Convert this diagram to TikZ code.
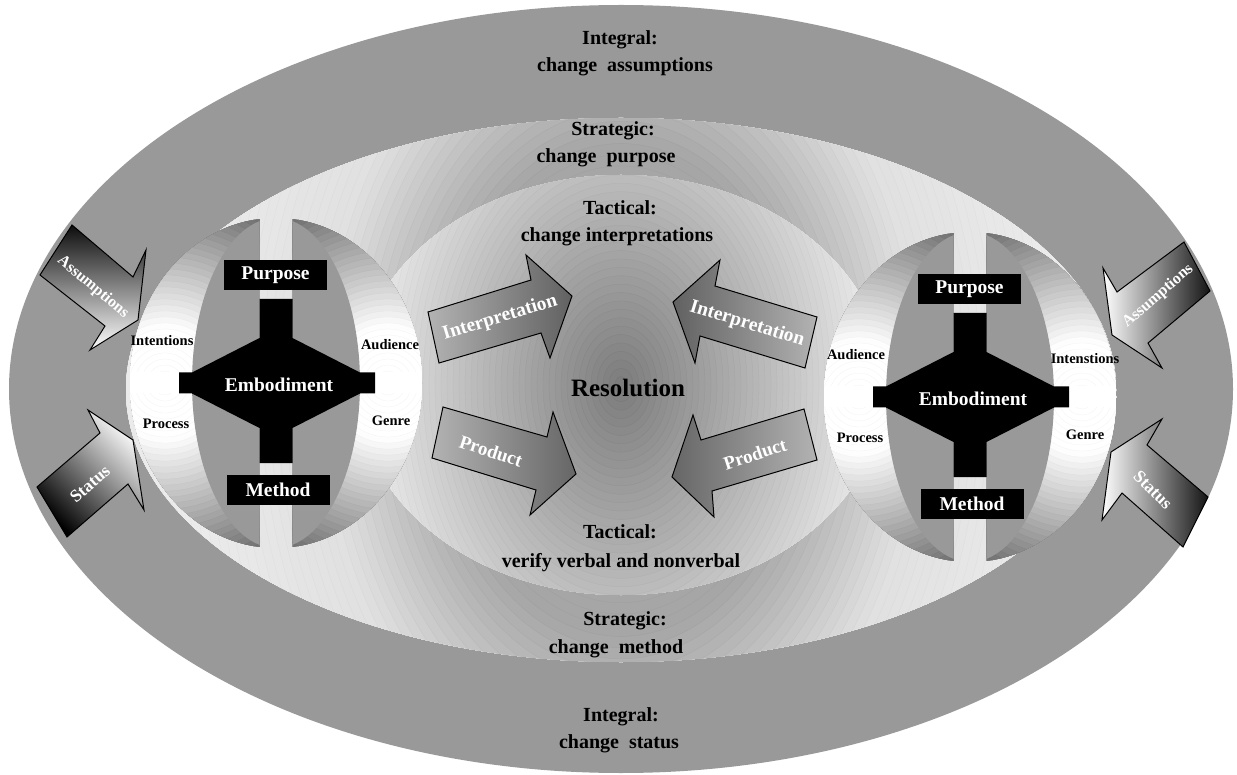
\documentclass[tikz,border=0pt]{standalone}
\usepackage{fontspec}
\setmainfont{Liberation Serif}

\tikzset{
  ring/.style={font=\fontsize{20}{24}\selectfont\bfseries, inner sep=0pt, anchor=base},
  quad/.style={font=\fontsize{14.5}{16}\selectfont\bfseries, inner sep=0pt},
  tag/.style={font=\fontsize{19.5}{22}\selectfont\bfseries, text=white, inner sep=0pt},
  arrowtext/.style={text=white, inner sep=0pt},
  blackbox/.style={fill=black, text=white, minimum width=103pt, minimum height=30pt,
    inner sep=0pt, font=\fontsize{19.5}{22}\selectfont\bfseries},
  blockarrow/.style={draw=black, line width=1pt, line join=miter},
  % a split sphere with its embodiment cross
  sphere/.pic={
    \begin{scope}
      \clip (-150,-170) rectangle (-16.5,170);
      \clip (0,0) ellipse [x radius=146, y radius=165];
      \foreach \rr in {204,198,...,6}{
        \pgfmathsetmacro\pc{54*min(max((\rr-58)/130,0),1)}
        \pgfmathsetmacro\pd{\pc+5}
        \filldraw[fill=black!\pc, draw=black!\pd, line width=0.25pt] (-111,0) circle [radius=\rr];
      }
    \end{scope}
    \begin{scope}
      \clip (16.5,-170) rectangle (150,170);
      \clip (0,0) ellipse [x radius=146, y radius=165];
      \foreach \rr in {204,198,...,6}{
        \pgfmathsetmacro\pc{54*min(max((\rr-58)/130,0),1)}
        \pgfmathsetmacro\pd{\pc+5}
        \filldraw[fill=black!\pc, draw=black!\pd, line width=0.25pt] (112,0) circle [radius=\rr];
      }
    \end{scope}
    \begin{scope}
      \clip (-150,-170) rectangle (-16.5,170) (16.5,-170) rectangle (150,170);
      \clip (0,0) ellipse [x radius=146, y radius=165];
      \fill[black!40] (0,0) ellipse [x radius=84, y radius=165];
      \fill[white] (-150,-10.5) rectangle (150,10.5);
    \end{scope}
    \fill[black] (-97,10.5) -- (-84,10.5) -- (-16.5,45) -- (-16.5,84) -- (16.5,84)
      -- (16.5,45) -- (84,10.5) -- (99,10.5) -- (99,-10.5) -- (84,-10.5) -- (16.5,-45)
      -- (16.5,-80) -- (-16.5,-80) -- (-16.5,-45) -- (-84,-10.5) -- (-97,-10.5) -- cycle;
    \node[blackbox] (-purpose) at (-0.5,108) {Purpose};
    \node[blackbox] (-method) at (2,-107) {Method};
    \node[tag] (-embodiment) at (3,-2) {Embodiment};
  }
}

\begin{document}
\begin{tikzpicture}[x=1pt,y=1pt]
\useasboundingbox (0,0) rectangle (1237,-775);
\fill[white] (0,0) rectangle (1237,-775);

% integral band
\fill[black!40] (621,-389) ellipse [x radius=612, y radius=384];

% strategic band
\begin{scope}
  \clip (621,-390) ellipse [x radius=495, y radius=272];
  \foreach \sa in {560,552,...,150}{
    \pgfmathsetmacro\pc{100*(1-(0.65+0.23*min(max((\sa-180)/120,0),1)+0.04*min(max((\sa-300)/130,0),1)))}
    \pgfmathsetmacro\pd{\pc+3}
    \filldraw[fill=black!\pc, draw=black!\pd, line width=0.3pt] (621,-390) ellipse [x radius=\sa, y radius=1.4*\sa];
  }
\end{scope}

% tactical core
\begin{scope}
  \clip (621,-385) ellipse [x radius=265, y radius=210];
  \foreach \sa in {282,276,...,6}{
    \pgfmathsetmacro\pc{100*(1-(0.48+0.45*min(\sa,265)/265))}
    \pgfmathsetmacro\pd{\pc+3}
    \filldraw[fill=black!\pc, draw=black!\pd, line width=0.3pt] (621,-385) ellipse [x radius=\sa, y radius=1.4*\sa];
  }
\end{scope}

% the two spheres
\pic (L) at (276,-383) {sphere};
\pic (R) at (970,-397) {sphere};

% quadrant labels
\node[quad] (lint) at (162,-341) {Intentions};
\node[quad] (lpro) at (166,-424) {Process};
\node[quad] (laud) at (390,-345) {Audience};
\node[quad] (lgen) at (391,-421) {Genre};
\node[quad] (raud) at (856,-355) {Audience};
\node[quad] (rpro) at (860,-438) {Process};
\node[quad] (rint) at (1085,-359) {Intenstions};
\node[quad] (rgen) at (1085,-435) {Genre};

% outer block arrows
\shadedraw[blockarrow, top color=black!95, bottom color=white]
  (72,-225) -- (133,-277) -- (146,-250) -- (138,-320) -- (90,-350) -- (105,-326) -- (40,-275) -- cycle;
\shadedraw[blockarrow, bottom color=black, top color=white, shading angle=-45]
  (37,-487) -- (100,-433) -- (88,-410) -- (133,-440) -- (144,-510) -- (128,-484) -- (67,-537) -- cycle;
\shadedraw[blockarrow, left color=white, right color=black!92]
  (1103,-268) -- (1117,-292) -- (1184,-242) -- (1210,-291) -- (1148,-343) -- (1162,-368) -- (1112,-335) -- cycle;
\shadedraw[blockarrow, left color=white, right color=black!92]
  (1162,-419) -- (1147,-445) -- (1208,-497) -- (1183,-547) -- (1122,-493) -- (1102,-520) -- (1111,-452) -- cycle;

% inner block arrows
\shadedraw[blockarrow, left color=black!30, right color=black!62]
  (428,-312) -- (531,-280) -- (526,-255) -- (572,-296) -- (550,-358) -- (541,-333) -- (439,-363) -- cycle;
\shadedraw[blockarrow, left color=black!30, right color=black!60]
  (443,-407) -- (547,-437) -- (553,-412) -- (576,-474) -- (530,-515) -- (536,-490) -- (432,-458) -- cycle;
\shadedraw[blockarrow, left color=black!62, right color=black!30]
  (673,-302) -- (720,-260) -- (715,-286) -- (817,-317) -- (805,-368) -- (700,-336) -- (695,-363) -- cycle;
\shadedraw[blockarrow, left color=black!60, right color=black!30]
  (693,-415) -- (701,-440) -- (804,-409) -- (817,-460) -- (712,-491) -- (714,-517) -- (672,-477) -- cycle;

% arrow captions
\node[arrowtext, font=\fontsize{16}{18}\selectfont\bfseries, rotate=-40] (la) at (93,-287) {Assumptions};
\node[arrowtext, font=\fontsize{17.5}{20}\selectfont\bfseries, rotate=41] (ls) at (90,-484) {Status};
\node[arrowtext, font=\fontsize{16}{18}\selectfont\bfseries, rotate=41] (ra) at (1158,-296) {Assumptions};
\node[arrowtext, font=\fontsize{17.5}{20}\selectfont\bfseries, rotate=-45] (rs) at (1153,-490) {Status};
\node[arrowtext, font=\fontsize{19.5}{22}\selectfont\bfseries, rotate=17] (li) at (500,-318) {Interpretation};
\node[arrowtext, font=\fontsize{19}{22}\selectfont\bfseries, rotate=-18] (lp) at (491,-451) {Product};
\node[arrowtext, font=\fontsize{19.5}{22}\selectfont\bfseries, rotate=-17] (ri) at (747,-324) {Interpretation};
\node[arrowtext, font=\fontsize{19}{22}\selectfont\bfseries, rotate=18] (rp) at (755,-454) {Product};

% centre
\node[font=\fontsize{25}{28}\selectfont\bfseries, inner sep=0pt] (res) at (628,-388) {Resolution};

% ring captions
\node[ring] (t1a) at (620,-45) {Integral:};
\node[ring] (t1b) at (625,-72) {change~ assumptions};
\node[ring] (t2a) at (613,-136) {Strategic:};
\node[ring] (t2b) at (606,-163) {change~ purpose};
\node[ring] (t3a) at (620,-215) {Tactical:};
\node[ring] (t3b) at (617,-242) {change interpretations};
\node[ring] (b3a) at (620,-538) {Tactical:};
\node[ring] (b3b) at (621,-567) {verify verbal and nonverbal};
\node[ring] (b2a) at (625,-625) {Strategic:};
\node[ring] (b2b) at (616,-653) {change~ method};
\node[ring] (b1a) at (621,-721) {Integral:};
\node[ring] (b1b) at (619,-748) {change~ status};
\end{tikzpicture}
\end{document}
